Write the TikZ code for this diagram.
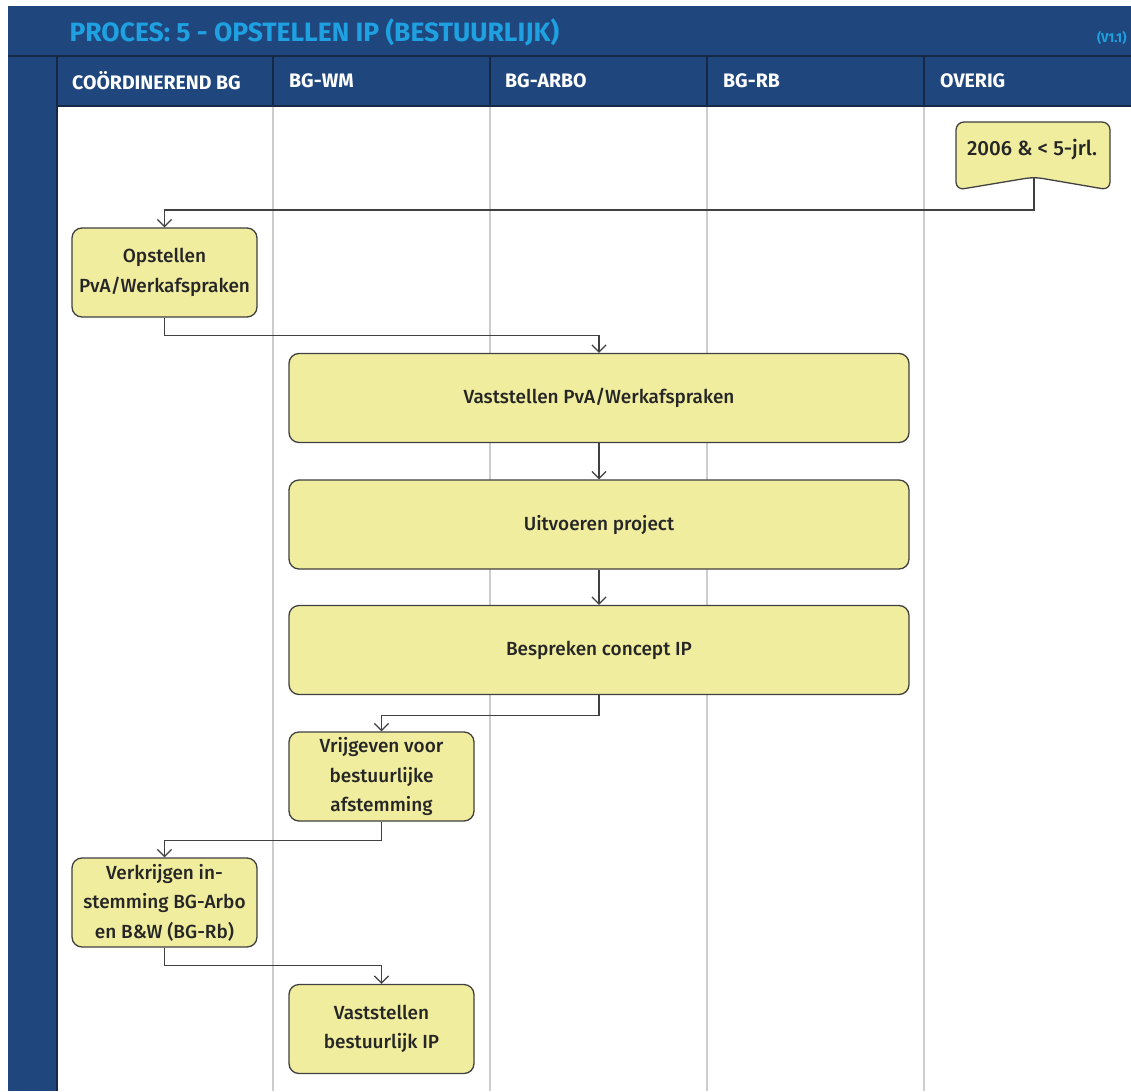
\documentclass[tikz,border=0pt]{standalone}
\usepackage{fontspec}
\setmainfont{Fira Sans}
\newfontfamily\taskfont{Fira Sans}[UprightFont=* Medium]
\usepackage[svgnames]{xcolor}
\definecolor{procblue}{RGB}{31,71,125}
\definecolor{procdark}{RGB}{22,40,70}
\definecolor{proctitle}{RGB}{30,160,225}
\definecolor{taskfill}{RGB}{240,237,158}
\definecolor{taskline}{RGB}{64,64,64}
\definecolor{lanegray}{RGB}{205,205,205}
\usetikzlibrary{
  arrows.meta}

\begin{document}
\begin{tikzpicture}[x=1pt,y=-1pt,
  lanehead/.style={anchor=west,inner sep=0pt,text=white,font=\bfseries\fontsize{19.5}{22}\selectfont},
  task/.style={draw=taskline,fill=taskfill,line width=1.3pt,rounded corners=10pt,
    minimum width=185pt,minimum height=89pt,align=center,text=black!85,
    font=\taskfont\fontsize{19}{29.5}\selectfont},
  widetask/.style={task,minimum width=620pt},
  flow/.style={draw=taskline,line width=1.3pt,-{Straight Barb[length=7pt,width=14pt]}}]
\useasboundingbox (0,0) rectangle (1131,1091);
% frame and lanes
\fill[procblue] (8,6) rectangle (1131,1091);
\fill[white] (57,107) rectangle (1131,1091);
\draw[procdark,line width=1.5pt] (8,56) -- (1131,56) (57,56) -- (57,1091) (57,106) -- (1131,106);
\foreach \x in {273,490,707,924} {
  \draw[procdark,line width=1.5pt] (\x,56) -- (\x,106);
  \draw[lanegray,line width=1.5pt] (\x,107) -- (\x,1091);
}
\node[anchor=west,text=proctitle,font=\bfseries\fontsize{26.5}{30}\selectfont] (title) at (66,32) {PROCES: 5 - OPSTELLEN IP (BESTUURLIJK)};
\node[anchor=east,text=proctitle,font=\bfseries\fontsize{13}{15}\selectfont] (version) at (1130,38) {(V1.1)};
\foreach \x/\lane in {72/COÖRDINEREND BG,289/BG-WM,505/BG-ARBO,723/BG-RB,940/OVERIG}
  \node[lanehead] (head\x) at (\x,81) {\lane};
% start
\draw[draw=taskline,fill=taskfill,line width=1.3pt,rounded corners=8pt]
  (956,122) -- (1110,122) -- (1110,190) -- (1034,177) -- (956,190) -- cycle;
\coordinate (startnotch) at (1034,177);
\node[text=black!85,font=\taskfont\fontsize{20.5}{29}\selectfont] (start) at (1032,150) {2006 \& < 5-jrl.};
% tasks
\node[task] (opstellen) at (164.5,272.5) {Opstellen\\PvA/Werkafspraken};
\node[widetask] (vaststellenpva) at (599,398) {Vaststellen PvA/Werkafspraken};
\node[widetask] (uitvoeren) at (599,524.5) {Uitvoeren project};
\node[widetask] (bespreken) at (599,650) {Bespreken concept IP};
\node[task] (vrijgeven) at (381.5,776.5) {Vrijgeven voor\\bestuurlijke\\afstemming};
\node[task] (verkrijgen) at (164.5,902.5) {Verkrijgen in-\\stemming BG-Arbo\\en B\&W (BG-Rb)};
\node[task] (vaststellenip) at (381.5,1029) {Vaststellen\\bestuurlijk IP};
% flows
\draw[flow] (startnotch) -- ++(0,33) -| (opstellen.north);
\draw[flow] (opstellen.south) -- ++(0,18) -| (vaststellenpva.north);
\draw[flow] (vaststellenpva) -- (uitvoeren);
\draw[flow] (uitvoeren) -- (bespreken);
\draw[flow] (bespreken.south) -- ++(0,20) -| (vrijgeven.north);
\draw[flow] (vrijgeven.south) -- ++(0,19) -| (verkrijgen.north);
\draw[flow] (verkrijgen.south) -- ++(0,18) -| (vaststellenip.north);
\end{tikzpicture}
\end{document}
